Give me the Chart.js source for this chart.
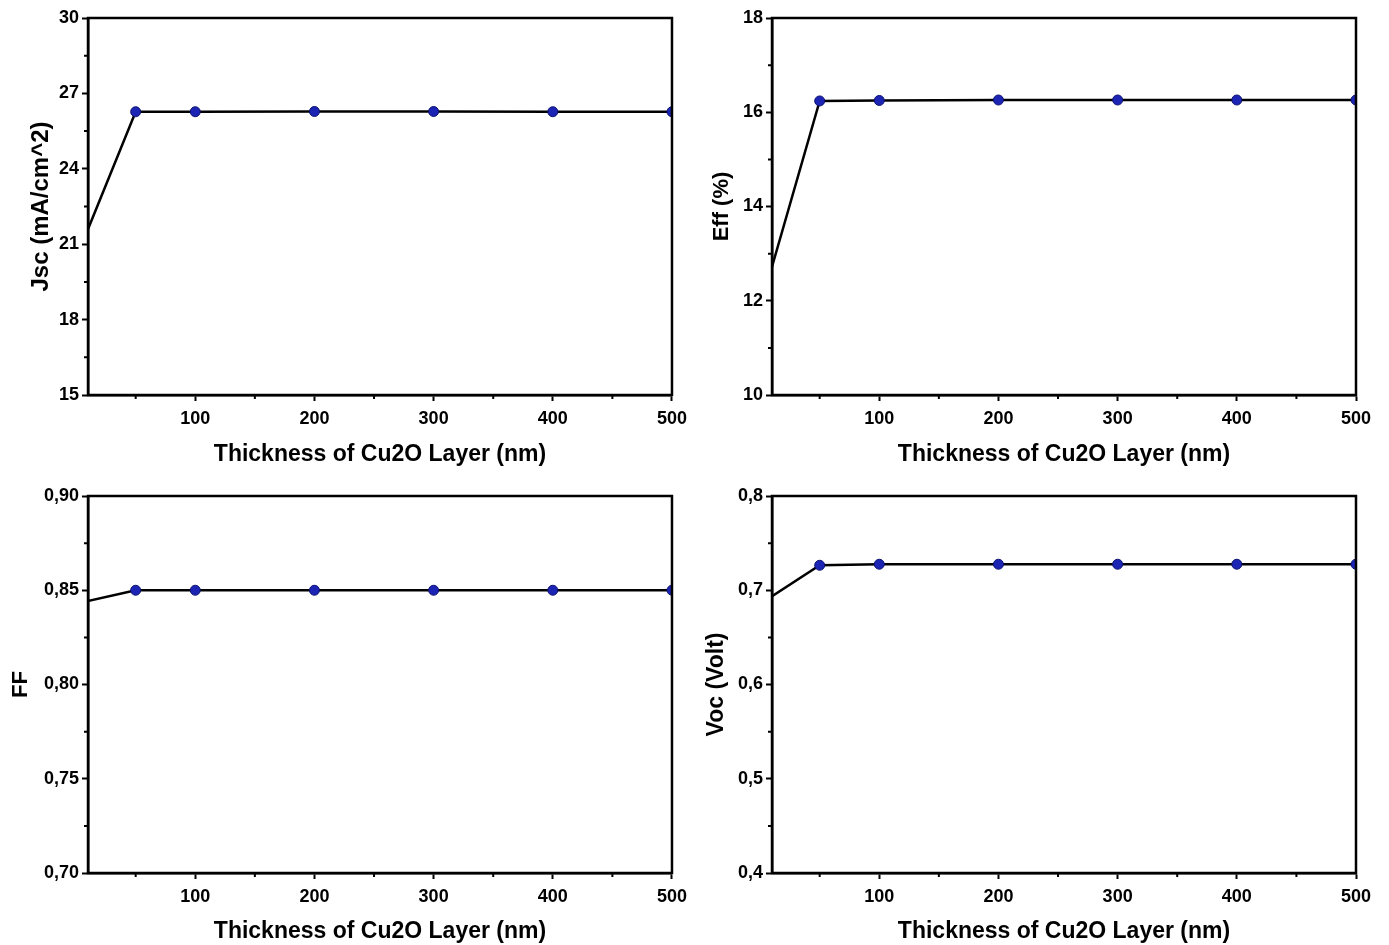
<!DOCTYPE html>
<html>
<head>
<meta charset="utf-8">
<script src="https://cdn.jsdelivr.net/npm/chart.js@4"></script>
<style>
  body { margin: 0; background: #fff; }
  .panel { position: absolute; }
</style>
</head>
<body>
<div class="panel" style="left:0;top:0;width:694px;height:472px"><canvas id="jscChart"></canvas></div>
<div class="panel" style="left:694px;top:0;width:695px;height:472px"><canvas id="effChart"></canvas></div>
<div class="panel" style="left:0;top:472px;width:694px;height:473px"><canvas id="ffChart"></canvas></div>
<div class="panel" style="left:694px;top:472px;width:695px;height:473px"><canvas id="vocChart"></canvas></div>
<script>
// data
var thickness = [0, 50, 100, 200, 300, 400, 500];
var jsc = [20.43, 26.27, 26.27, 26.28, 26.28, 26.27, 26.27];
var eff = [11.84, 16.24, 16.25, 16.26, 16.26, 16.26, 16.26];
var ff = [0.8429, 0.850, 0.850, 0.850, 0.850, 0.850, 0.850];
var voc = [0.6854, 0.7265, 0.7276, 0.7276, 0.7276, 0.7276, 0.7276];

var xTicks = [100, 200, 300, 400, 500];
var xMinor = [50, 150, 250, 350, 450];
var jscTicks = [15, 18, 21, 24, 27, 30];
var effTicks = [10, 12, 14, 16, 18];
var ffTicks = [0.70, 0.75, 0.80, 0.85, 0.90];
var vocTicks = [0.4, 0.5, 0.6, 0.7, 0.8];

var xTitle = 'Thickness of Cu2O Layer (nm)';
var fontFam = '"Liberation Sans", Arial, sans-serif';

// frame box + minor ticks
var framePlugin = {
    id: 'frame',
    afterDraw: function (chart) {
        var ctx = chart.ctx;
        var a = chart.chartArea;
        var xs = chart.scales.x, ys = chart.scales.y;
        ctx.save();
        ctx.strokeStyle = '#000';
        ctx.lineWidth = 2.5;
        ctx.strokeRect(a.left, a.top, a.right - a.left, a.bottom - a.top);
        ctx.lineWidth = 2;
        ctx.beginPath();
        xMinor.forEach(function (v) {
            var px = xs.getPixelForValue(v);
            ctx.moveTo(px, a.bottom);
            ctx.lineTo(px, a.bottom + 4);
        });
        var yt = chart.options.yTickList;
        for (var i = 0; i < yt.length - 1; i++) {
            var py = ys.getPixelForValue((yt[i] + yt[i + 1]) / 2);
            ctx.moveTo(a.left, py);
            ctx.lineTo(a.left - 4, py);
        }
        ctx.stroke();
        ctx.restore();
    }
};

function makeChart(id, values, yTicks, yLabel, decimals, p) {
    var ctx = document.getElementById(id).getContext('2d');
    return new Chart(ctx, {
        type: 'line',
        data: {
            labels: thickness,
            datasets: [{
                data: thickness.map(function (t, i) { return {x: t, y: values[i]}; }),
                borderColor: '#000',
                borderWidth: 2.5,
                pointRadius: 5,
                pointBackgroundColor: '#1c24b4',
                pointBorderColor: '#0c1170',
                pointBorderWidth: 1,
                tension: 0,
                clip: 0
            }]
        },
        options: {
            responsive: true,
            maintainAspectRatio: false,
            animation: false,
            yTickList: yTicks,
            layout: { padding: { top: p.top, right: p.right, left: 0, bottom: 0 } },
            plugins: { legend: { display: false }, tooltip: { enabled: false } },
            scales: {
                x: {
                    type: 'linear',
                    min: 10,
                    max: 500,
                    afterBuildTicks: function (scale) {
                        scale.ticks = xTicks.map(function (v) { return {value: v}; });
                    },
                    afterFit: function (scale) { scale.height = p.xH; },
                    border: { color: '#000', width: 2.5 },
                    grid: { drawOnChartArea: false, tickLength: 6, color: '#000', tickWidth: 2 },
                    ticks: { color: '#000', padding: 7, maxRotation: 0,
                             font: { family: fontFam, size: 18, weight: 'bold' } },
                    title: { display: true, text: xTitle, color: '#000',
                             padding: { top: p.xPad, bottom: p.xPad },
                             font: { family: fontFam, size: 23, weight: 'bold', lineHeight: 1.2 } }
                },
                y: {
                    min: yTicks[0],
                    max: yTicks[yTicks.length - 1],
                    afterBuildTicks: function (scale) {
                        scale.ticks = yTicks.map(function (v) { return {value: v}; });
                    },
                    afterFit: function (scale) { scale.width = p.yW; },
                    border: { color: '#000', width: 2.5 },
                    grid: { drawOnChartArea: false, tickLength: 6, color: '#000', tickWidth: 2 },
                    ticks: {
                        color: '#000', padding: 3,
                        font: { family: fontFam, size: 18, weight: 'bold' },
                        callback: function (v) {
                            return decimals ? v.toFixed(decimals).replace('.', ',') : String(v);
                        }
                    },
                    title: { display: true, text: yLabel, color: '#000',
                             padding: { top: p.yPad, bottom: p.yPad },
                             font: { family: fontFam, size: p.ySize, weight: 'bold', lineHeight: 1.2 } }
                }
            }
        },
        plugins: [framePlugin]
    });
}

makeChart('jscChart', jsc, jscTicks, 'Jsc (mA/cm^2)', 0, {top: 18, right: 22, yW: 88, xH: 77, ySize: 24, yPad: 27, xPad: 4});
makeChart('effChart', eff, effTicks, 'Eff (%)', 0, {top: 18, right: 33, yW: 78, xH: 77, ySize: 22, yPad: 15, xPad: 4});
makeChart('ffChart', ff, ffTicks, 'FF', 2, {top: 24, right: 22, yW: 88, xH: 72, ySize: 22, yPad: 8, xPad: 0});
makeChart('vocChart', voc, vocTicks, 'Voc (Volt)', 1, {top: 24, right: 33, yW: 78, xH: 72, ySize: 23, yPad: 9, xPad: 0});
</script>
</body>
</html>
